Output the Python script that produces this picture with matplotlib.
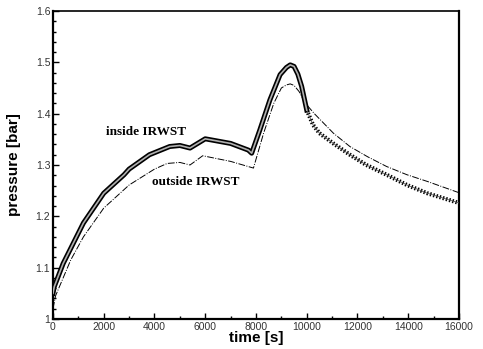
import numpy as np
import matplotlib
matplotlib.use('Agg')
import matplotlib.pyplot as plt
from matplotlib.ticker import MultipleLocator, FuncFormatter

# 読み取ったデータ (時間 [s], 圧力 [bar])
t_in = [0, 50, 400, 1200, 2000, 2800, 3000, 3800, 4600, 5000, 5400, 6000,
        7000, 7700, 7830, 8150, 8550, 8950, 9200, 9350, 9500, 9650, 9800, 10000,
        10250, 10500, 11050, 11700, 12350, 13150, 13950, 14750, 16000]
p_in = [1.050, 1.063, 1.108, 1.187, 1.245, 1.281, 1.292, 1.320, 1.336, 1.338, 1.333, 1.351,
        1.342, 1.329, 1.323, 1.368, 1.427, 1.476, 1.490, 1.495, 1.492, 1.477, 1.453, 1.407,
        1.378, 1.362, 1.342, 1.320, 1.300, 1.281, 1.261, 1.245, 1.226]

t_out = [0, 100, 400, 700, 1200, 2000, 3000, 4000, 4500, 5000, 5400, 5900,
         7000, 7900, 8300, 8700, 9000, 9200, 9350, 9500, 9700, 9950, 10300, 11050,
         11700, 12400, 13150, 13950, 14750, 16000]
p_out = [1.020, 1.045, 1.080, 1.115, 1.160, 1.216, 1.261, 1.292, 1.303, 1.305, 1.300, 1.318,
         1.307, 1.294, 1.362, 1.420, 1.450, 1.456, 1.458, 1.455, 1.443, 1.420, 1.400, 1.362,
         1.336, 1.316, 1.297, 1.281, 1.268, 1.246]

x_ticks = [0, 2000, 4000, 6000, 8000, 10000, 12000, 14000, 16000]
y_ticks = [1.0, 1.1, 1.2, 1.3, 1.4, 1.5, 1.6]

t_in = np.array(t_in)
p_in = np.array(p_in)
head = t_in <= 10000
tail = t_in >= 10000

fig = plt.figure(figsize=(4.83, 3.49), dpi=100)
ax = fig.add_axes([0.1097, 0.086, 0.8406, 0.8825])

# outside IRWST: 細い一点鎖線
ax.plot(t_out, p_out, color='black', lw=0.7, ls=(0, (7, 1.5, 1, 1.5)), zorder=2)

# inside IRWST: 太い二重線（前半）+ ハッチ状（後半）
ax.plot(t_in[head], p_in[head], color='black', lw=3.6, solid_joinstyle='round', zorder=3)
ax.plot(t_in[head], p_in[head], color='#b0b0b0', lw=1.2, zorder=4)
ax.plot(t_in[tail], p_in[tail], color='black', lw=3.0, ls=(0, (0.35, 0.45)), zorder=3)
ax.plot(t_in[tail], p_in[tail], color='#555555', lw=0.6, zorder=3)

ax.text(3665, 1.3645, 'inside IRWST', family='Liberation Serif', fontweight='bold',
        fontsize=9.5, ha='center', va='center')
ax.text(5636, 1.266, 'outside IRWST', family='Liberation Serif', fontweight='bold',
        fontsize=9.5, ha='center', va='center')

ax.set_xlim(0, 16000)
ax.set_ylim(1.0, 1.6)
ax.set_xticks(x_ticks)
ax.set_yticks(y_ticks)
ax.xaxis.set_minor_locator(MultipleLocator(1000))
ax.yaxis.set_minor_locator(MultipleLocator(0.02))
ax.yaxis.set_major_formatter(FuncFormatter(lambda v, pos: f'{v:g}'))

ax.tick_params(which='both', direction='in', top=False, right=False, width=1.0)
ax.tick_params(which='major', length=4, pad=2, labelsize=7.5, labelcolor='#333333')
ax.tick_params(which='minor', length=2)
for lab in ax.get_xticklabels() + ax.get_yticklabels():
    lab.set_family('Liberation Sans')

for side in ['left', 'bottom', 'right']:
    ax.spines[side].set_linewidth(1.6)
ax.spines['top'].set_linewidth(1.2)

ax.set_xlabel('time [s]', family='Liberation Sans', fontweight='bold', fontsize=11, labelpad=0)
ax.set_ylabel('pressure [bar]', family='Liberation Sans', fontweight='bold', fontsize=11)
ax.xaxis.set_label_coords(0.5, -0.038)
ax.yaxis.set_label_coords(-0.079, 0.5)

plt.savefig('out.png', dpi=100)
plt.close()
